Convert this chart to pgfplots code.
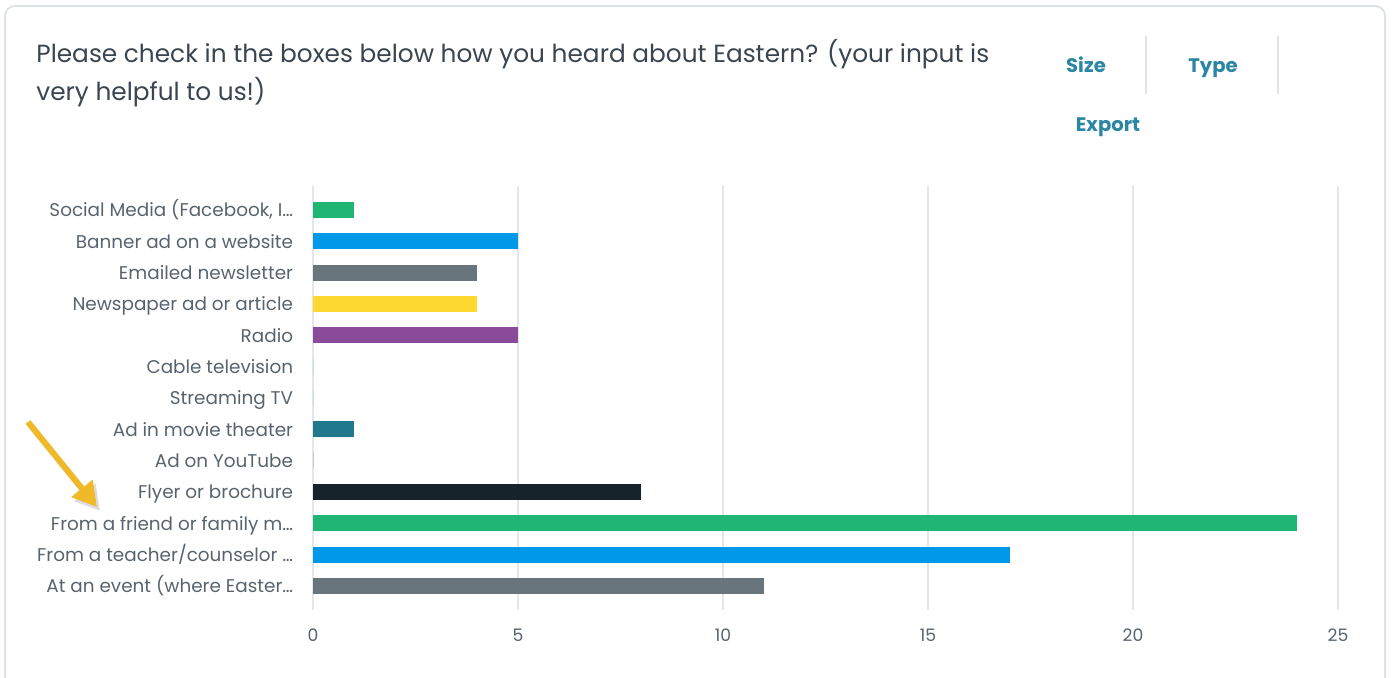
\documentclass[border=0pt]{standalone}
\usepackage{fontspec}
\setmainfont{Poppins}
\usepackage{pgfplots}
\pgfplotsset{compat=1.18}
\usetikzlibrary{arrows.meta}

\definecolor{cgreen}{RGB}{33,181,115}
\definecolor{cblue}{RGB}{0,152,232}
\definecolor{cgray}{RGB}{104,117,125}
\definecolor{cyellow}{RGB}{253,216,48}
\definecolor{cpurple}{RGB}{138,76,154}
\definecolor{cteal}{RGB}{32,120,140}
\definecolor{cdark}{RGB}{23,35,43}
\definecolor{gridc}{RGB}{228,230,233}
\definecolor{framec}{RGB}{222,227,232}
\definecolor{titlec}{RGB}{58,69,80}
\definecolor{labc}{RGB}{88,99,110}
\definecolor{btnc}{RGB}{43,134,163}
\definecolor{arrowc}{RGB}{240,185,40}

\begin{document}
\begin{tikzpicture}
% picture frame, in pixel units of the reference (1px = 0.5pt)
\begin{scope}[x=0.5pt,y=-0.5pt]
  \path[use as bounding box] (0,0) rectangle (1393,678);
  \begin{scope}
    \clip (0,0) rectangle (1393,678);
    \draw[framec, line width=1pt, rounded corners=5pt] (5,6) rectangle (1385,740);
  \end{scope}
  \node[anchor=base west, inner sep=0pt, text=titlec, font=\fontsize{12.4}{14}\selectfont]
    at (36,63) {Please check in the boxes below how you heard about Eastern? (your input is};
  \node[anchor=base west, inner sep=0pt, text=titlec, font=\fontsize{12.4}{14}\selectfont]
    at (36,101) {very helpful to us!)};
  \node[anchor=base, inner sep=0pt, text=btnc, font=\fontsize{9.8}{11}\selectfont\bfseries] at (1086,73) {Size};
  \node[anchor=base, inner sep=0pt, text=btnc, font=\fontsize{9.8}{11}\selectfont\bfseries] at (1213,73) {Type};
  \node[anchor=base, inner sep=0pt, text=btnc, font=\fontsize{9.8}{11}\selectfont\bfseries] at (1108,132) {Export};
  \draw[framec, line width=0.6pt] (1146,36) -- (1146,94);
  \draw[framec, line width=0.6pt] (1278,36) -- (1278,94);
  % annotation arrow
  \draw[black!30, opacity=0.45, line width=3pt, -{Triangle[length=12pt,width=13pt]}] (31,426) -- (100,511);
  \draw[arrowc, line width=3pt, -{Triangle[length=12pt,width=13pt]}] (28,422) -- (97,507);
\end{scope}

\begin{axis}[
  at={(156.5pt,-305pt)}, anchor=south west,
  scale only axis, width=512.5pt, height=212pt,
  xbar, bar width=8pt, bar shift=0pt,
  xmin=0, xmax=25, ymin=-0.77, ymax=12.77,
  xtick={0,5,10,15,20,25},
  ytick={0,...,12},
  yticklabels={At an event (where Easter…, From a teacher/counselor …, From a friend or family m…, Flyer or brochure, Ad on YouTube, Ad in movie theater, Streaming TV, Cable television, Radio, Newspaper ad or article, Emailed newsletter, Banner ad on a website, {Social Media (Facebook, I…}},
  axis line style={draw=none},
  tick style={draw=none},
  xmajorgrids,
  major grid style={draw=gridc, line width=1pt},
  /pgf/number format/assume math mode=true,
  yticklabel style={font=\fontsize{9.2}{11}\selectfont, text=labc, anchor=east, inner sep=0pt, xshift=-5.5pt, yshift=-0.9pt, text height=0.72em, text depth=0.22em},
  xticklabel style={font=\fontsize{8.6}{10}\selectfont, text=labc, anchor=center, inner sep=0pt, yshift=-12.5pt},
  every axis plot/.append style={draw=none},
]
\addplot[fill=cgreen]  coordinates {(1,12)};
\addplot[fill=cblue]   coordinates {(5,11)};
\addplot[fill=cgray]   coordinates {(4,10)};
\addplot[fill=cyellow] coordinates {(4,9)};
\addplot[fill=cpurple] coordinates {(5,8)};
\addplot[fill=cteal]   coordinates {(0,7)};
\addplot[fill=cteal]   coordinates {(0,6)};
\addplot[fill=cteal]   coordinates {(1,5)};
\addplot[fill=cdark]   coordinates {(0,4)};
\addplot[fill=cdark]   coordinates {(8,3)};
\addplot[fill=cgreen]  coordinates {(24,2)};
\addplot[fill=cblue]   coordinates {(17,1)};
\addplot[fill=cgray]   coordinates {(11,0)};
\end{axis}
\end{tikzpicture}
\end{document}
